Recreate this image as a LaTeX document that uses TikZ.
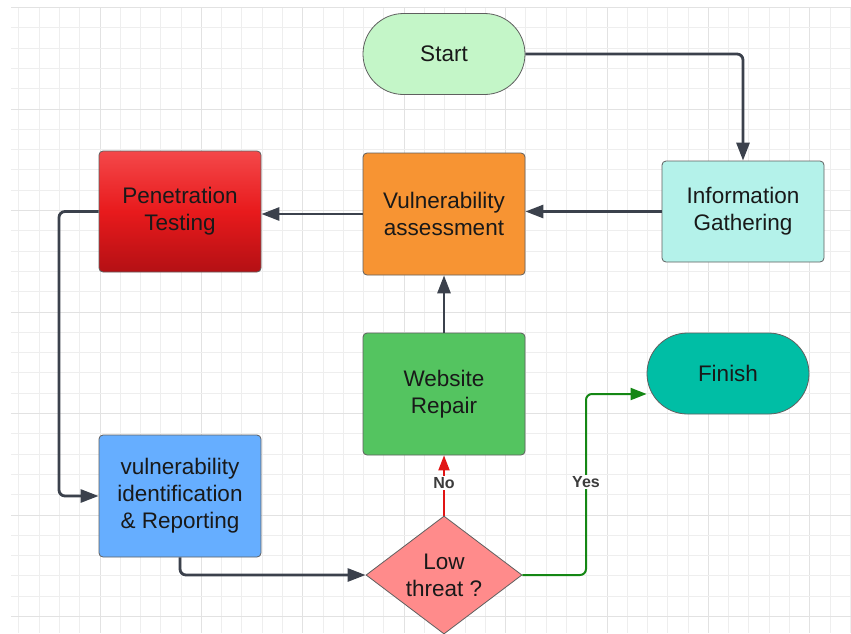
\documentclass[tikz,border=0pt]{standalone}
\usepackage{fontspec}
\setmainfont{Liberation Sans}
\usetikzlibrary{arrows.meta,shapes.geometric,calc}
\definecolor{gridminor}{RGB}{238,238,238}
\definecolor{gridmajor}{RGB}{226,226,226}
\definecolor{conncol}{RGB}{59,65,76}
\definecolor{bordercol}{RGB}{95,95,95}
\definecolor{textcol}{RGB}{25,25,25}
\definecolor{startfill}{RGB}{196,246,200}
\definecolor{infofill}{RGB}{180,242,234}
\definecolor{vulnfill}{RGB}{247,148,51}
\definecolor{repairfill}{RGB}{84,196,96}
\definecolor{vidfill}{RGB}{102,174,255}
\definecolor{diafill}{RGB}{255,139,139}
\definecolor{finishfill}{RGB}{0,190,165}
\definecolor{pentop}{RGB}{244,72,74}
\definecolor{penmid}{RGB}{232,26,28}
\definecolor{penbot}{RGB}{180,16,20}
\definecolor{lblcol}{RGB}{60,60,60}
\definecolor{nocol}{RGB}{225,20,20}
\definecolor{yescol}{RGB}{20,135,20}
\begin{document}
\begin{tikzpicture}[x=1pt,y=-1pt,
  box/.style={draw=bordercol, line width=0.8pt, rounded corners=4pt,
    minimum width=162pt, inner sep=0pt, align=center,
    font=\fontsize{22.5}{27}\selectfont, text=textcol},
  stadium/.style={box, rounded corners=40.5pt, minimum height=81pt},
  decision/.style={diamond, draw=bordercol, line width=0.8pt, fill=diafill,
    minimum width=156pt, minimum height=118pt, inner sep=0pt, aspect=1.32,
    align=center, font=\fontsize{22.5}{27}\selectfont, text=textcol},
  conn/.style={draw=conncol, line width=2.8pt, rounded corners=6pt,
    -{Triangle[length=18pt,width=13pt]}},
  noconn/.style={draw=nocol, line width=2pt,
    -{Triangle[length=15pt,width=11pt]}},
  yesconn/.style={draw=yescol, line width=2pt, rounded corners=6pt,
    -{Triangle[length=16pt,width=12pt]}},
  lbl/.style={fill=white, inner sep=1pt, text=lblcol,
    font=\fontsize{16}{16}\selectfont\bfseries}
]
\useasboundingbox (0,0) rectangle (851,633);
\fill[white] (0,0) rectangle (851,633);
% grid
\foreach \k in {-4,...,37} {
  \pgfmathsetmacro{\xx}{100+20.28*\k}
  \pgfmathtruncatemacro{\mm}{mod(\k+100,5)}
  \ifnum\mm=0
    \draw[gridmajor, line width=1pt] (\xx,7.5) -- (\xx,633);
  \else
    \draw[gridminor, line width=1pt] (\xx,7.5) -- (\xx,633);
  \fi
}
\foreach \k in {0,...,30} {
  \pgfmathsetmacro{\yy}{7.5+20.3*\k}
  \pgfmathtruncatemacro{\mm}{mod(\k,5)}
  \ifnum\mm=0
    \draw[gridmajor, line width=1pt] (11,\yy) -- (851,\yy);
  \else
    \draw[gridminor, line width=1pt] (11,\yy) -- (851,\yy);
  \fi
}
% nodes
\node[stadium, fill=startfill] (start) at (444,54) {Start};
\node[box, fill=infofill, minimum height=101pt] (info) at (743,211.5) {Information\\Gathering};
\node[box, fill=vulnfill, minimum height=122pt] (vuln) at (444,214) {Vulnerability\\assessment};
\node[box, top color=pentop, bottom color=penbot, middle color=penmid, draw=bordercol, minimum height=121pt] (pen) at (180,211.5) {Penetration\\Testing};
\node[box, fill=repairfill, minimum height=122pt] (repair) at (444,394) {Website\\Repair};
\node[box, fill=vidfill, minimum height=122pt] (vid) at (180,496) {vulnerability\\identification\\\& Reporting};
\node[decision] (dia) at (444,575) {Low\\threat ?};
\node[stadium, fill=finishfill] (finish) at (728,373.5) {Finish};
\coordinate (pbend) at (59,211.5);
\coordinate (ybend) at (586,394);
% connectors
\draw[conn] (start.east) -| (info.north);
\draw[conn] (info.west) -- (info.west -| vuln.east);
\draw[conn] (vuln.west) -- (vuln.west -| pen.east);
\draw[conn] (pen.west) -- (pbend) |- (vid.west);
\draw[conn] (vid.south) |- (dia.west);
\draw[conn] (repair.north) -- (vuln.south);
\draw[noconn] (dia.north) -- (repair.south);
\draw[yesconn] (dia.east) -| (ybend) -- (ybend -| finish.west);
\node[lbl] (no) at (444,483) {No};
\node[lbl] (yes) at (586,482) {Yes};
\end{tikzpicture}
\end{document}
